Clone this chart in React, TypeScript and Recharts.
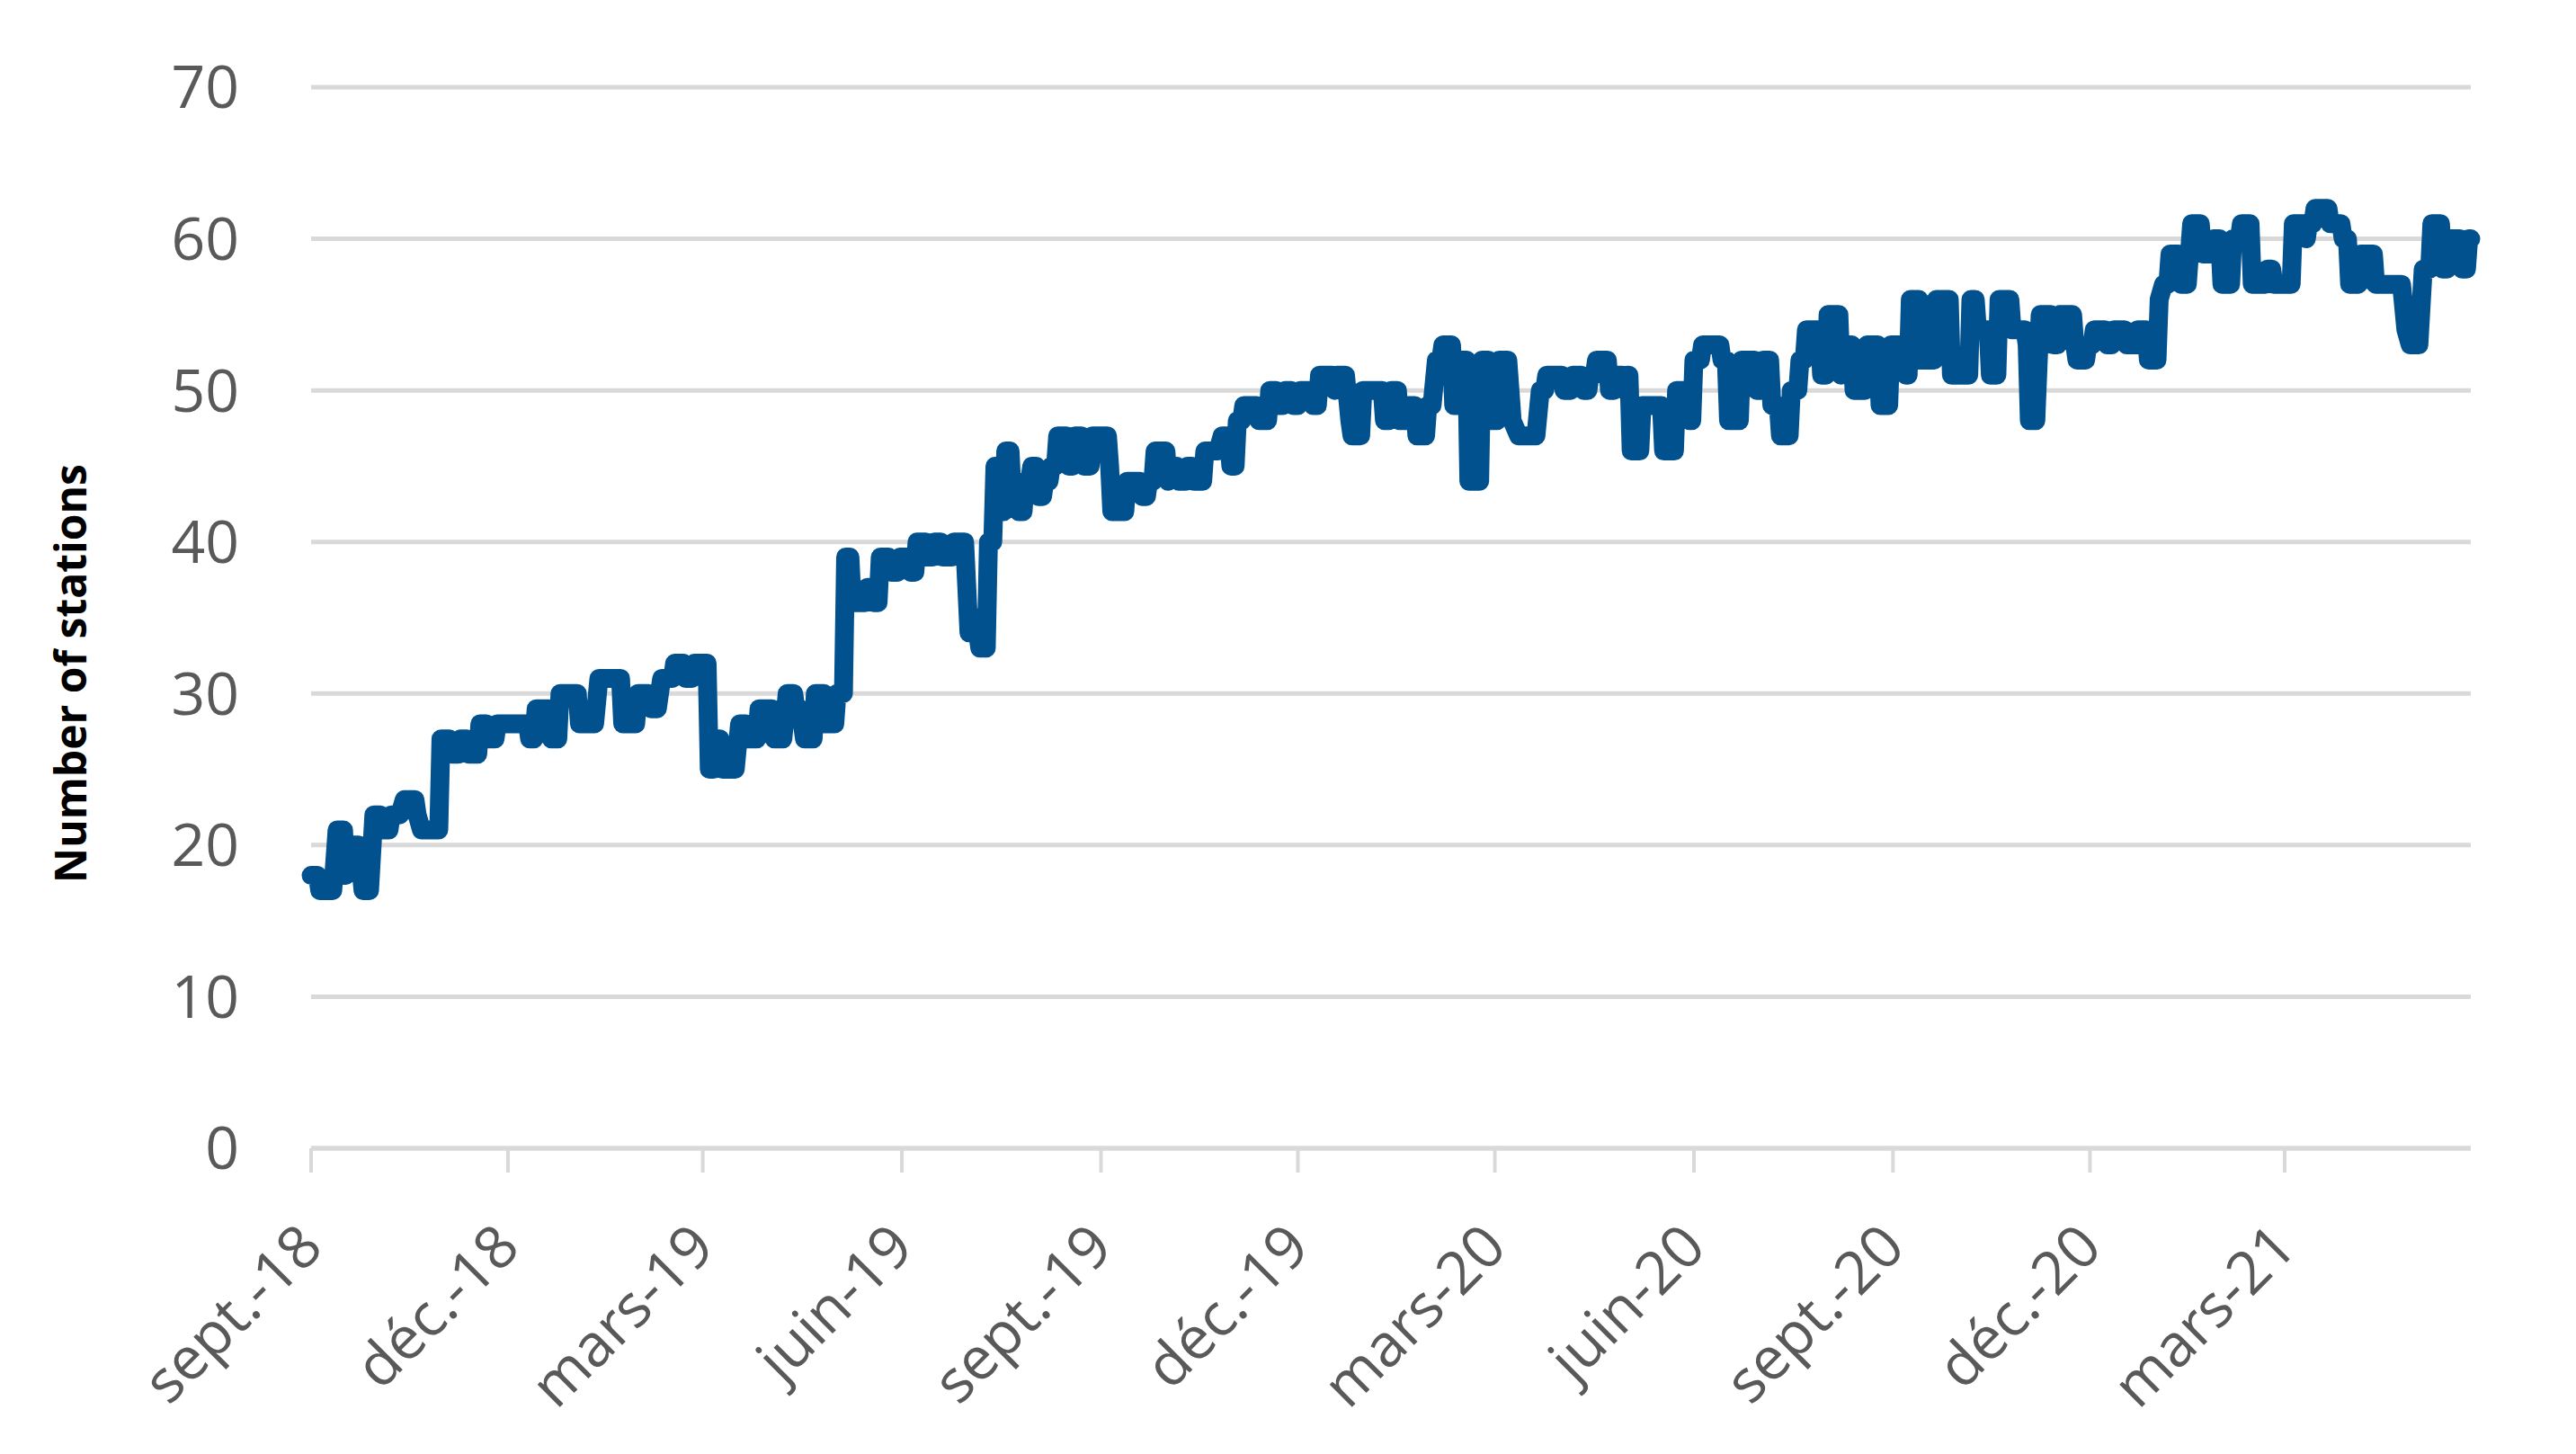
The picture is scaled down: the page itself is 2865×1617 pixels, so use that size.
import React from 'react';
import { LineChart, Line, XAxis, YAxis, CartesianGrid } from 'recharts';

// days counted from 1 Sept 2018, value = number of stations
const days = [
  0, 3, 4, 10, 12, 15, 16, 17, 22, 24, 27, 29, 32, 33, 36, 37, 41, 43, 48, 49, 51, 59, 60, 64, 65, 68, 69, 72, 73, 77,
  78, 81, 82, 85, 86, 100, 101, 103, 104, 110, 111, 114, 115, 123, 124, 131, 133, 143, 144, 150, 151, 156, 157, 160,
  162, 167, 168, 172, 173, 176, 177, 183, 184, 186, 187, 189, 190, 196,
  198, 201, 202, 206, 207, 213, 214, 218, 220, 223, 224, 226, 228, 232, 233, 237, 238, 242, 243, 246, 247, 249, 250,
  256, 257, 259, 260, 262, 263, 267, 268, 271, 272, 276, 277, 279, 280, 284, 285, 287, 288, 291, 292, 296, 297, 302,
  303, 304, 306, 307, 309, 312, 313, 315, 316, 319, 320, 321, 323, 324, 326, 327, 329, 330, 332, 333, 335, 336, 338,
  339, 341, 342, 344, 345, 349, 350, 352, 353, 356, 357, 360, 361, 368, 369, 370, 376, 377, 383, 384, 386, 387, 389,
  390, 395,
  396, 397, 400, 401, 404, 405, 407, 408, 412, 413, 419, 421, 424, 425, 427, 428, 430, 431, 437, 438, 442, 443, 446,
  447, 449, 450, 453, 454, 456, 457, 462, 463, 465, 466, 472, 473, 474, 478, 480, 481, 485, 486, 495, 496, 498, 499,
  502, 503, 506, 507, 510, 511, 515, 516, 518, 520, 522, 523, 527, 528, 530, 531, 534, 535, 540, 541, 544, 545, 548,
  549, 553, 555, 558, 566, 568, 570, 571, 578, 579, 582, 583, 587, 588, 590, 591, 593, 594, 599,
  600, 602, 603, 606, 607, 608, 609, 610, 614, 615, 624, 625, 630, 631, 636, 637, 638, 639, 642, 643, 651, 652, 654,
  655, 660, 661, 667, 668, 670, 671, 674, 675, 678, 679, 683, 684, 687, 688, 690, 691, 697, 698, 700, 701, 706, 707,
  708, 712, 713, 718, 719, 724, 725, 729, 730, 736, 737, 738, 739, 743, 744, 750, 751, 757, 758, 766, 767, 769, 770,
  775, 776, 779, 780, 785, 786, 792, 793, 794, 797, 799, 804, 805, 807, 808, 814, 815, 816, 820, 821, 823, 824, 829,
  830, 832, 833, 838, 839, 843, 844, 848, 849, 853, 854, 856, 858, 859, 863, 864, 867, 869, 873, 874, 878, 879, 882,
  883, 887, 888, 891, 892, 896, 897, 903, 904, 906, 907, 915, 916, 921, 922, 923, 925, 926, 932, 933, 938, 939, 941,
  942, 946, 947, 953, 954, 966, 968, 970, 974, 976, 979, 980, 984, 985, 987, 988, 993, 994, 996, 997, 998,
];

const stations = [
  18, 18, 17, 17, 21, 21, 18, 20, 20, 17, 17, 22, 22, 21, 21, 22, 22, 23, 23, 22, 21, 21, 27, 27, 26, 26, 27, 27, 26, 26,
  28, 28, 27, 27, 28, 28, 27, 27, 29, 29, 27, 27, 30, 30, 28, 28, 31, 31, 28, 28, 30, 30, 29, 29,
  31, 31, 32, 32, 31, 31, 32, 32, 25, 25, 27, 27, 25, 25,
  28, 28, 27, 27, 29, 29, 27, 27, 30, 30, 29, 29, 27, 27, 30, 30, 28, 28, 30, 30, 39, 39, 36,
  36, 37, 37, 36, 36, 39, 39, 38, 38, 39, 39, 38, 38, 40, 40, 39, 39, 40, 40, 39, 39, 40, 40,
  37, 34, 34, 35, 33, 33, 40, 40, 45, 45, 42, 46, 46, 43, 43, 42, 42, 44, 44, 45, 45, 43, 43,
  44, 44, 45, 45, 47, 47, 45, 45, 47, 47, 45, 45, 47, 47, 45, 42, 42, 44, 44, 43, 43, 44, 44,
  46, 46,
  44, 45, 45, 44, 44, 45, 45, 44, 44, 46, 46, 47, 47, 45, 45, 48, 48, 49, 49, 48, 48, 50, 50,
  49, 49, 50, 50, 49, 49, 50, 50, 49, 49, 51, 51, 50, 51, 51, 48, 47, 47, 50, 50, 48, 48, 50,
  50, 48, 48, 49, 49, 47, 47, 49, 49, 52, 52, 53, 53, 49, 49, 52, 52, 44, 44, 52, 52, 48, 48,
  52, 52, 48, 47, 47, 50, 50, 51, 51, 50, 50, 51, 51, 50, 50, 51, 51, 52, 52,
  50, 50, 51, 51, 50, 51, 51, 46, 46, 49, 49, 46, 46, 50, 50, 48, 48, 52, 52, 53, 53, 52, 52,
  48, 48, 52, 52, 50, 50, 52, 52, 49, 49, 47, 47, 50, 50, 52, 52, 54, 54, 51, 51, 55, 55, 51,
  53, 53, 50, 50, 53, 53, 49, 49, 53, 53, 51, 51, 56, 56, 52, 52, 56, 56, 51, 51, 56, 56, 54,
  54, 51, 51, 56, 56, 54, 54, 53, 48, 48, 55, 55, 53, 53, 55, 55, 53, 52, 52, 53, 53, 54, 54,
  53, 53, 54, 54, 53, 53, 54, 54, 52, 52, 56, 57, 57, 59, 59, 57, 57, 61, 61, 59, 59, 60, 60,
  57, 57, 60, 60, 61, 61, 57, 57, 58, 58, 57, 57, 61, 61, 60, 61, 61, 62, 62, 61, 61, 60, 60,
  57, 57, 59, 59, 57, 57, 54, 53, 53, 58, 58, 61, 61, 58, 58, 60, 60, 58, 58, 60, 60,
];

const tickDays = [0, 91, 181, 273, 365, 456, 547, 639, 731, 822, 912];
const tickLabels = ['sept.-18', 'déc.-18', 'mars-19', 'juin-19', 'sept.-19', 'déc.-19', 'mars-20', 'juin-20', 'sept.-20', 'déc.-20', 'mars-21'];
const yTicks = [0, 10, 20, 30, 40, 50, 60, 70];

const data = days.map((day, i) => ({ day, stations: stations[i] }));

const FONT = '"Open Sans", "Noto Sans", sans-serif';

function DateTick(props: any) {
  const { x, y, payload } = props;
  const idx = tickDays.indexOf(payload.value);
  const bx = x + 16;
  const by = y + 86;
  return (
    <text
      x={bx}
      y={by}
      transform={`rotate(-45, ${bx}, ${by})`}
      textAnchor="end"
      fill="#595959"
      fontSize={66}
      fontFamily={FONT}
    >
      {tickLabels[idx]}
    </text>
  );
}

function AxisTitle(props: any) {
  const { viewBox } = props;
  const cx = viewBox.x + 31;
  const cy = viewBox.y + viewBox.height / 2 + 62;
  return (
    <text
      x={cx}
      y={cy}
      transform={`rotate(-90, ${cx}, ${cy})`}
      textAnchor="middle"
      dominantBaseline="central"
      fill="#000"
      fontSize={48}
      fontWeight={700}
      fontFamily={FONT}
    >
      Number of stations
    </text>
  );
}

export default function App() {
  return (
    <div style={{ position: 'absolute', left: 0, top: 0, background: '#fff' }}>
      <LineChart width={2865} height={1617} data={data} margin={{ top: 97, right: 117, left: 46, bottom: 40 }}>
        <CartesianGrid vertical={false} stroke="#D9D9D9" strokeWidth={5} />
        <XAxis
          dataKey="day"
          type="number"
          domain={[0, 998]}
          ticks={tickDays}
          interval={0}
          height={300}
          axisLine={{ stroke: '#D9D9D9', strokeWidth: 5 }}
          tickLine={{ stroke: '#D9D9D9', strokeWidth: 4 }}
          tickSize={27}
          tickMargin={0}
          tick={<DateTick />}
        />
        <YAxis
          domain={[0, 70]}
          ticks={yTicks}
          interval={0}
          width={300}
          axisLine={false}
          tickLine={false}
          tickSize={0}
          tickMargin={80}
          tick={{ fill: '#595959', fontSize: 66, fontFamily: FONT }}
          label={<AxisTitle />}
        />
        <Line
          type="linear"
          dataKey="stations"
          stroke="#02518F"
          strokeWidth={21}
          strokeLinejoin="round"
          strokeLinecap="round"
          dot={false}
          isAnimationActive={false}
        />
      </LineChart>
    </div>
  );
}
